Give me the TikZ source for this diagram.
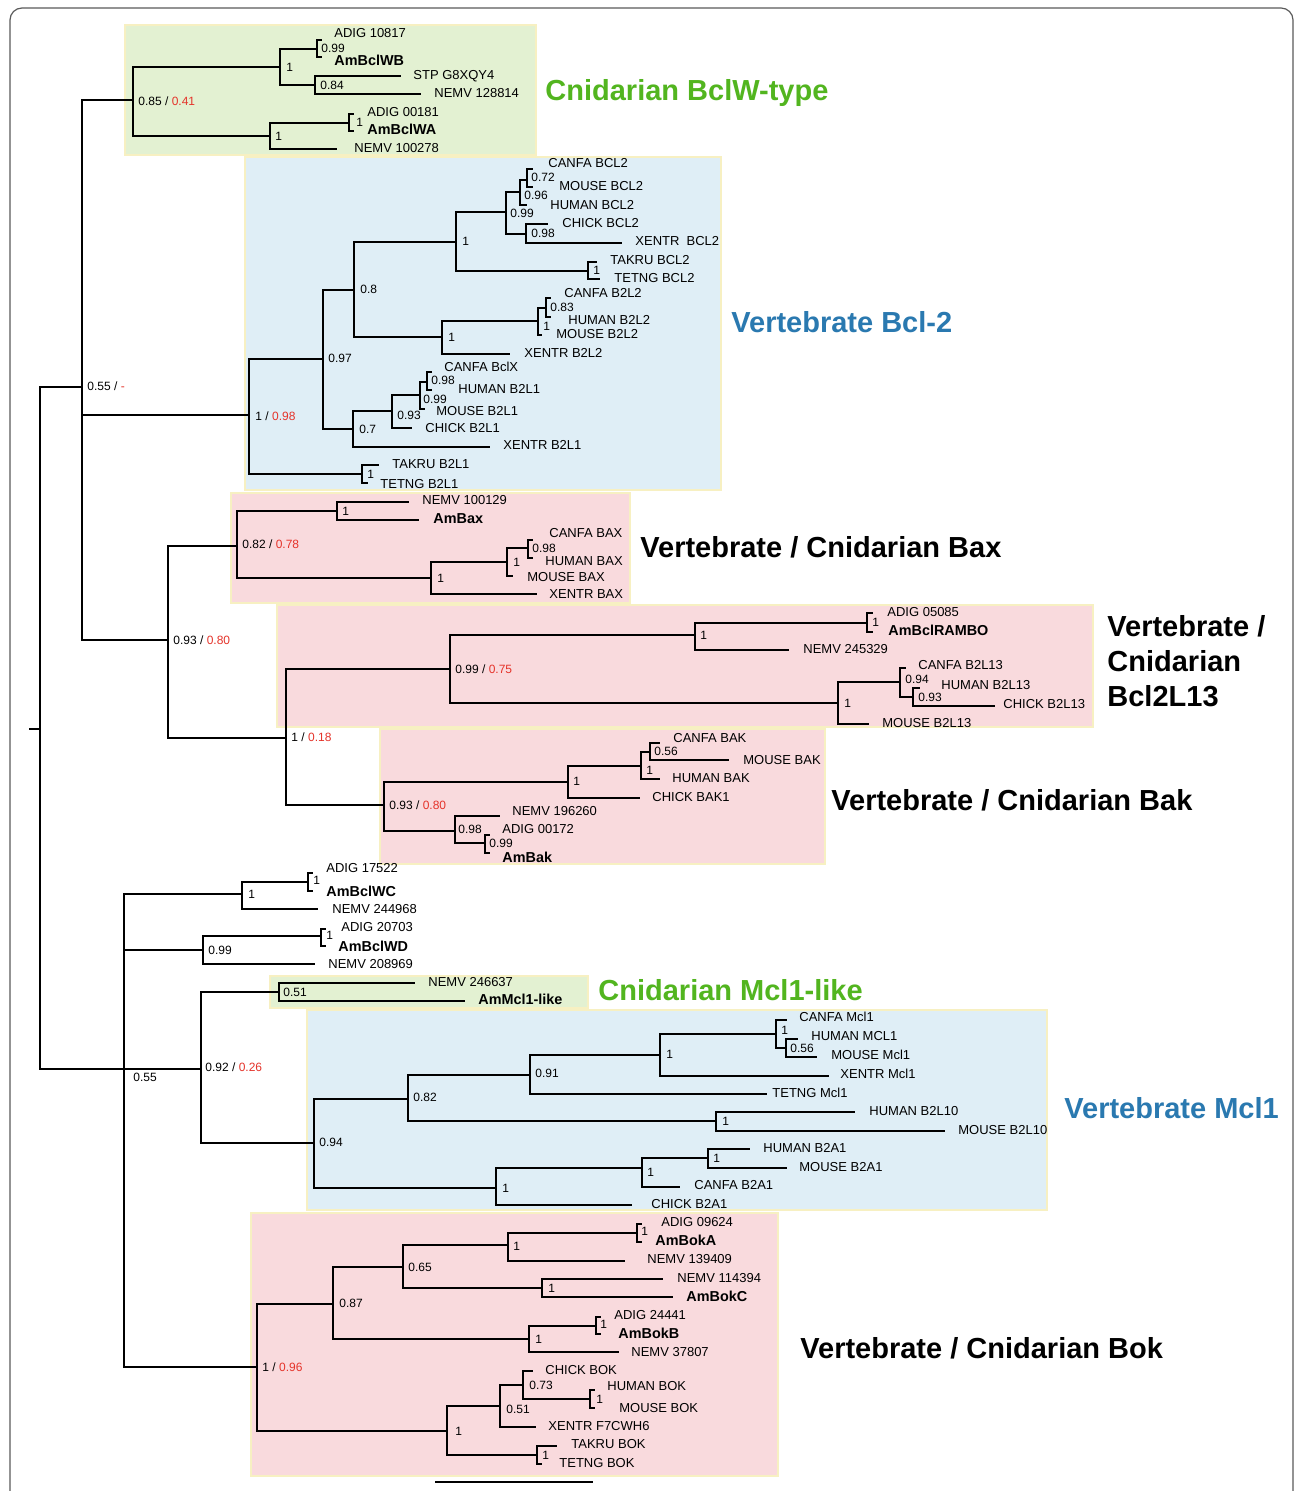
\documentclass[tikz,border=0pt]{standalone}
\usepackage{fontspec}
\setmainfont{Liberation Sans}
\definecolor{redv}{HTML}{E5332A}
\definecolor{gtitle}{HTML}{52B51F}
\definecolor{btitle}{HTML}{2A79B0}
\definecolor{gfill}{HTML}{E3F1D2}
\definecolor{bfill}{HTML}{DFEEF6}
\definecolor{pfill}{HTML}{F9DADD}
\definecolor{bedge}{HTML}{F7F0C2}
\definecolor{framec}{HTML}{5A5A5A}
\begin{document}
\begin{tikzpicture}[x=0.5pt,y=-0.5pt,
  br/.style={line width=1.35pt, line join=miter},
  leaf/.style={anchor=base west, inner sep=0pt, font=\fontsize{6.5}{7}\selectfont, yshift=-2.3pt},
  bleaf/.style={anchor=base west, inner sep=0pt, font=\fontsize{7.2}{8}\selectfont\bfseries, yshift=-2.6pt},
  sup/.style={anchor=base west, inner sep=0pt, font=\fontsize{6}{7}\selectfont, yshift=-2.2pt},
  ttl/.style={anchor=base west, inner sep=0pt, font=\fontsize{14.5}{16}\selectfont\bfseries, yshift=-5.2pt},
  cbox/.style={draw=bedge, line width=0.8pt}]
\useasboundingbox (0,0) rectangle (1295,1491);
\clip (0,0) rectangle (1295,1491);
\fill[white] (0,0) rectangle (1295,1491);
\draw[framec, line width=0.6pt, rounded corners=6pt] (10,8) rectangle (1293,1560);

% clade boxes
\filldraw[cbox, fill=gfill] (125,25) rectangle (536,155);
\filldraw[cbox, fill=bfill] (245,157) rectangle (721,490);
\filldraw[cbox, fill=pfill] (231,493) rectangle (630,603);
\filldraw[cbox, fill=pfill] (277,605) rectangle (1093,727);
\filldraw[cbox, fill=pfill] (380,729) rectangle (825,864);
\filldraw[cbox, fill=gfill] (270,976) rectangle (588,1008);
\filldraw[cbox, fill=bfill] (307,1010) rectangle (1047,1210);
\filldraw[cbox, fill=pfill] (251,1213) rectangle (778,1476);

% ---------- coordinates: backbone
\coordinate (rs) at (29,729);
\coordinate (r) at (40,729);
\coordinate (U) at (82,387);
\coordinate (L) at (124,1069);
% BclW
\coordinate (W) at (133,100);
\coordinate (W1) at (280,67);
\coordinate (W2) at (270,136);
\coordinate (W1a) at (317,49);
\coordinate (W1b) at (315,85);
\coordinate (W2a) at (349,123);
\coordinate (tA10817) at (322,40);
\coordinate (tAmBclWB) at (322,57);
\coordinate (tSTP) at (401,76);
\coordinate (tN128814) at (421,94);
\coordinate (tN100278) at (337,149);
\coordinate (tA00181) at (354,114);
\coordinate (tAmBclWA) at (354,131);
% Bcl-2
\coordinate (B0) at (249,415);
\coordinate (B1) at (323,359);
\coordinate (B2) at (362,474);
\coordinate (B11) at (354,290);
\coordinate (B12) at (353,429);
\coordinate (B111) at (456,242);
\coordinate (B112) at (442,337);
\coordinate (B1111) at (506,212);
\coordinate (B1112) at (588,271);
\coordinate (Bc) at (520,192);
\coordinate (Bd) at (526,234);
\coordinate (Be) at (527,180);
\coordinate (tCanBcl2) at (533,169);
\coordinate (tMouBcl2) at (533,187);
\coordinate (tHumBcl2) at (527,205);
\coordinate (tChiBcl2) at (548,224);
\coordinate (tXenBcl2) at (622,243);
\coordinate (tTakBcl2) at (597,262);
\coordinate (tTetBcl2) at (600,279);
\coordinate (Bf) at (538,321);
\coordinate (Bg) at (546,308);
\coordinate (tCanB2L2) at (551,298);
\coordinate (tHumB2L2) at (551,317);
\coordinate (tMouB2L2) at (542,335);
\coordinate (tXenB2L2) at (510,354);
\coordinate (Bh) at (392,411);
\coordinate (Bi) at (420,395);
\coordinate (Bj) at (427,382);
\coordinate (tCanBclX) at (432,372);
\coordinate (tHumB2L1) at (432,390);
\coordinate (tMouB2L1) at (425,409);
\coordinate (tChiB2L1) at (412,428);
\coordinate (tXenB2L1) at (490,447);
\coordinate (tTakB2L1) at (379,465);
\coordinate (tTetB2L1) at (368,483);
% Bax / Bcl2L13 / Bak
\coordinate (X) at (168,640);
\coordinate (X1) at (237,546);
\coordinate (X2) at (286,738);
\coordinate (X11) at (337,511);
\coordinate (X12) at (431,578);
\coordinate (Xk) at (507,562);
\coordinate (Xm) at (528,548);
\coordinate (tN100129) at (409,502);
\coordinate (tAmBax) at (419,520);
\coordinate (tCanBax) at (533,540);
\coordinate (tHumBax) at (533,558);
\coordinate (tMouBax) at (513,576);
\coordinate (tXenBax) at (537,594);
\coordinate (R) at (450,669);
\coordinate (R1) at (695,635);
\coordinate (R2) at (838,703);
\coordinate (Rn) at (867,623);
\coordinate (Ro) at (900,682);
\coordinate (Rp) at (913,697);
\coordinate (tA05085) at (873,613);
\coordinate (tAmRambo) at (873,632);
\coordinate (tN245329) at (789,650);
\coordinate (tCanL13) at (906,668);
\coordinate (tHumL13) at (920,688);
\coordinate (tChiL13) at (995,706);
\coordinate (tMouL13) at (869,724);
\coordinate (K) at (384,805);
\coordinate (K1) at (568,782);
\coordinate (K2) at (455,831);
\coordinate (Kq) at (641,766);
\coordinate (Ks) at (650,752);
\coordinate (Ku) at (485,843);
\coordinate (tCanBak) at (660,743);
\coordinate (tMouBak) at (729,760);
\coordinate (tHumBak) at (660,779);
\coordinate (tChiBak) at (640,798);
\coordinate (tN196260) at (500,816);
\coordinate (tA00172) at (490,835);
\coordinate (tAmBak) at (490,853);
% lower half
\coordinate (C) at (242,894);
\coordinate (C1) at (308,882);
\coordinate (tA17522) at (313,873);
\coordinate (tAmBclWC) at (313,891);
\coordinate (tN244968) at (318,909);
\coordinate (D) at (203,950);
\coordinate (D1) at (321,936);
\coordinate (tA20703) at (326,929);
\coordinate (tAmBclWD) at (326,946);
\coordinate (tN208969) at (315,964);
\coordinate (M) at (201,1069);
\coordinate (ML) at (279,992);
\coordinate (tN246637) at (415,983);
\coordinate (tAmMcl) at (465,1001);
\coordinate (V) at (314,1143);
\coordinate (V1) at (408,1099);
\coordinate (V2) at (496,1188);
\coordinate (V11) at (530,1075);
\coordinate (V12) at (716,1121);
\coordinate (V111) at (660,1055);
\coordinate (Vw) at (776,1034);
\coordinate (Vy) at (786,1048);
\coordinate (tCanMcl) at (787,1020);
\coordinate (tHumMcl) at (798,1039);
\coordinate (tMouMcl) at (817,1057);
\coordinate (tXenMcl) at (829,1076);
\coordinate (tTetMcl) at (767,1094);
\coordinate (tHumL10) at (855,1112);
\coordinate (tMouL10) at (945,1131);
\coordinate (V21) at (642,1168);
\coordinate (Vz) at (708,1158);
\coordinate (tHumA1) at (750,1149);
\coordinate (tMouA1) at (787,1168);
\coordinate (tCanA1) at (680,1187);
\coordinate (tChiA1) at (632,1205);
% Bok
\coordinate (O) at (257,1367);
\coordinate (O1) at (333,1304);
\coordinate (O2) at (447,1431);
\coordinate (O11) at (403,1267);
\coordinate (O12) at (529,1339);
\coordinate (O111) at (508,1245);
\coordinate (O112) at (542,1288);
\coordinate (Oa) at (637,1233);
\coordinate (tA09624) at (642,1224);
\coordinate (tAmBokA) at (642,1242);
\coordinate (tN139409) at (625,1261);
\coordinate (tN114394) at (663,1279);
\coordinate (tAmBokC) at (673,1297);
\coordinate (Ob) at (596,1326);
\coordinate (tA24441) at (601,1317);
\coordinate (tAmBokB) at (601,1334);
\coordinate (tN37807) at (619,1352);
\coordinate (O21) at (500,1406);
\coordinate (Od) at (523,1385);
\coordinate (Oe) at (590,1399);
\coordinate (Oc) at (537,1455);
\coordinate (tChiBok) at (533,1371);
\coordinate (tHumBok) at (595,1390);
\coordinate (tMouBok) at (595,1408);
\coordinate (tXenBok) at (536,1427);
\coordinate (tTakBok) at (557,1446);
\coordinate (tTetBok) at (542,1464);
\coordinate (sb1) at (435,1482);
\coordinate (sb2) at (593,1482);

% ---------- branches
\draw[line width=0.6pt] (rs) -- (r);
\draw[br] (r) |- (U) (r) |- (L);
\draw[br] (U) |- (W) (U) |- (B0) (U) |- (X);
\draw[br] (W) |- (W1) (W) |- (W2);
\draw[br] (W1) |- (W1a) (W1) |- (W1b);
\draw[br] (W1a) |- (tA10817) (W1a) |- (tAmBclWB);
\draw[br] (W1b) |- (tSTP) (W1b) |- (tN128814);
\draw[br] (W2) |- (W2a) (W2) |- (tN100278);
\draw[br] (W2a) |- (tA00181) (W2a) |- (tAmBclWA);
\draw[br] (B0) |- (B1) (B0) |- (B2);
\draw[br] (B1) |- (B11) (B1) |- (B12);
\draw[br] (B11) |- (B111) (B11) |- (B112);
\draw[br] (B111) |- (B1111) (B111) |- (B1112);
\draw[br] (B1111) |- (Bc) (B1111) |- (Bd);
\draw[br] (Bc) |- (Be) (Bc) |- (tHumBcl2);
\draw[br] (Be) |- (tCanBcl2) (Be) |- (tMouBcl2);
\draw[br] (Bd) |- (tChiBcl2) (Bd) |- (tXenBcl2);
\draw[br] (B1112) |- (tTakBcl2) (B1112) |- (tTetBcl2);
\draw[br] (B112) |- (Bf) (B112) |- (tXenB2L2);
\draw[br] (Bf) |- (Bg) (Bf) |- (tMouB2L2);
\draw[br] (Bg) |- (tCanB2L2) (Bg) |- (tHumB2L2);
\draw[br] (B12) |- (Bh) (B12) |- (tXenB2L1);
\draw[br] (Bh) |- (Bi) (Bh) |- (tChiB2L1);
\draw[br] (Bi) |- (Bj) (Bi) |- (tMouB2L1);
\draw[br] (Bj) |- (tCanBclX) (Bj) |- (tHumB2L1);
\draw[br] (B2) |- (tTakB2L1) (B2) |- (tTetB2L1);
\draw[br] (X) |- (X1) (X) |- (X2);
\draw[br] (X1) |- (X11) (X1) |- (X12);
\draw[br] (X11) |- (tN100129) (X11) |- (tAmBax);
\draw[br] (X12) |- (Xk) (X12) |- (tXenBax);
\draw[br] (Xk) |- (Xm) (Xk) |- (tMouBax);
\draw[br] (Xm) |- (tCanBax) (Xm) |- (tHumBax);
\draw[br] (X2) |- (R) (X2) |- (K);
\draw[br] (R) |- (R1) (R) |- (R2);
\draw[br] (R1) |- (Rn) (R1) |- (tN245329);
\draw[br] (Rn) |- (tA05085) (Rn) |- (tAmRambo);
\draw[br] (R2) |- (Ro) (R2) |- (tMouL13);
\draw[br] (Ro) |- (tCanL13) (Ro) |- (Rp);
\draw[br] (Rp) |- (tHumL13) (Rp) |- (tChiL13);
\draw[br] (K) |- (K1) (K) |- (K2);
\draw[br] (K1) |- (Kq) (K1) |- (tChiBak);
\draw[br] (Kq) |- (Ks) (Kq) |- (tHumBak);
\draw[br] (Ks) |- (tCanBak) (Ks) |- (tMouBak);
\draw[br] (K2) |- (tN196260) (K2) |- (Ku);
\draw[br] (Ku) |- (tA00172) (Ku) |- (tAmBak);
\draw[br] (L) |- (C) (L) |- (D) (L) |- (M) (L) |- (O);
\draw[br] (C) |- (C1) (C) |- (tN244968);
\draw[br] (C1) |- (tA17522) (C1) |- (tAmBclWC);
\draw[br] (D) |- (D1) (D) |- (tN208969);
\draw[br] (D1) |- (tA20703) (D1) |- (tAmBclWD);
\draw[br] (M) |- (ML) (M) |- (V);
\draw[br] (ML) |- (tN246637) (ML) |- (tAmMcl);
\draw[br] (V) |- (V1) (V) |- (V2);
\draw[br] (V1) |- (V11) (V1) |- (V12);
\draw[br] (V11) |- (V111) (V11) |- (tTetMcl);
\draw[br] (V111) |- (Vw) (V111) |- (tXenMcl);
\draw[br] (Vw) |- (tCanMcl) (Vw) |- (Vy);
\draw[br] (Vy) |- (tHumMcl) (Vy) |- (tMouMcl);
\draw[br] (V12) |- (tHumL10) (V12) |- (tMouL10);
\draw[br] (V2) |- (V21) (V2) |- (tChiA1);
\draw[br] (V21) |- (Vz) (V21) |- (tCanA1);
\draw[br] (Vz) |- (tHumA1) (Vz) |- (tMouA1);
\draw[br] (O) |- (O1) (O) |- (O2);
\draw[br] (O1) |- (O11) (O1) |- (O12);
\draw[br] (O11) |- (O111) (O11) |- (O112);
\draw[br] (O111) |- (Oa) (O111) |- (tN139409);
\draw[br] (Oa) |- (tA09624) (Oa) |- (tAmBokA);
\draw[br] (O112) |- (tN114394) (O112) |- (tAmBokC);
\draw[br] (O12) |- (Ob) (O12) |- (tN37807);
\draw[br] (Ob) |- (tA24441) (Ob) |- (tAmBokB);
\draw[br] (O2) |- (O21) (O2) |- (Oc);
\draw[br] (O21) |- (Od) (O21) |- (tXenBok);
\draw[br] (Od) |- (tChiBok) (Od) |- (Oe);
\draw[br] (Oe) |- (tHumBok) (Oe) |- (tMouBok);
\draw[br] (Oc) |- (tTakBok) (Oc) |- (tTetBok);
\draw[br] (sb1) -- (sb2);

% ---------- leaf labels
\node[leaf] (lA10817) at (334,33) {ADIG 10817};
\node[bleaf] (lAmBclWB) at (334,60) {AmBclWB};
\node[leaf] (lSTP) at (413,75) {STP G8XQY4};
\node[leaf] (lN128814) at (434,93) {NEMV 128814};
\node[leaf] (lA00181) at (367,112) {ADIG 00181};
\node[bleaf] (lAmBclWA) at (367,129) {AmBclWA};
\node[leaf] (lN100278) at (354,148) {NEMV 100278};
\node[leaf] (lCanBcl2) at (548,163) {CANFA BCL2};
\node[leaf] (lMouBcl2) at (559,186) {MOUSE BCL2};
\node[leaf] (lHumBcl2) at (550,205) {HUMAN BCL2};
\node[leaf] (lChiBcl2) at (562,223) {CHICK BCL2};
\node[leaf] (lXenBcl2) at (635,241) {XENTR\ \ BCL2};
\node[leaf] (lTakBcl2) at (610,260) {TAKRU BCL2};
\node[leaf] (lTetBcl2) at (614,278) {TETNG BCL2};
\node[leaf] (lCanB2L2) at (564,293) {CANFA B2L2};
\node[leaf] (lHumB2L2) at (568,320) {HUMAN B2L2};
\node[leaf] (lMouB2L2) at (556,334) {MOUSE B2L2};
\node[leaf] (lXenB2L2) at (524,353) {XENTR B2L2};
\node[leaf] (lCanBclX) at (444,367) {CANFA BclX};
\node[leaf] (lHumB2L1) at (458,389) {HUMAN B2L1};
\node[leaf] (lMouB2L1) at (436,411) {MOUSE B2L1};
\node[leaf] (lChiB2L1) at (425,428) {CHICK B2L1};
\node[leaf] (lXenB2L1) at (503,445) {XENTR B2L1};
\node[leaf] (lTakB2L1) at (392,464) {TAKRU B2L1};
\node[leaf] (lTetB2L1) at (380,484) {TETNG B2L1};
\node[leaf] (lN100129) at (422,500) {NEMV 100129};
\node[bleaf] (lAmBax) at (433,518) {AmBax};
\node[leaf] (lCanBax) at (549,533) {CANFA BAX};
\node[leaf] (lHumBax) at (545,561) {HUMAN BAX};
\node[leaf] (lMouBax) at (527,577) {MOUSE BAX};
\node[leaf] (lXenBax) at (549,594) {XENTR BAX};
\node[leaf] (lA05085) at (887,612) {ADIG 05085};
\node[bleaf] (lAmRambo) at (888,630) {AmBclRAMBO};
\node[leaf] (lN245329) at (803,649) {NEMV 245329};
\node[leaf] (lCanL13) at (918,665) {CANFA B2L13};
\node[leaf] (lHumL13) at (941,685) {HUMAN B2L13};
\node[leaf] (lChiL13) at (1003,704) {CHICK B2L13};
\node[leaf] (lMouL13) at (882,723) {MOUSE B2L13};
\node[leaf] (lCanBak) at (673,738) {CANFA BAK};
\node[leaf] (lMouBak) at (743,760) {MOUSE BAK};
\node[leaf] (lHumBak) at (672,778) {HUMAN BAK};
\node[leaf] (lChiBak) at (652,797) {CHICK BAK1};
\node[leaf] (lN196260) at (512,811) {NEMV 196260};
\node[leaf] (lA00172) at (502,829) {ADIG 00172};
\node[bleaf] (lAmBak) at (502,857) {AmBak};
\node[leaf] (lA17522) at (326,868) {ADIG 17522};
\node[bleaf] (lAmBclWC) at (326,891) {AmBclWC};
\node[leaf] (lN244968) at (332,909) {NEMV 244968};
\node[leaf] (lA20703) at (341,927) {ADIG 20703};
\node[bleaf] (lAmBclWD) at (338,946) {AmBclWD};
\node[leaf] (lN208969) at (328,964) {NEMV 208969};
\node[leaf] (lN246637) at (428,982) {NEMV 246637};
\node[bleaf] (lAmMcl) at (478,999) {AmMcl1-like};
\node[leaf] (lCanMcl) at (799,1017) {CANFA Mcl1};
\node[leaf] (lHumMcl) at (811,1036) {HUMAN MCL1};
\node[leaf] (lMouMcl) at (831,1055) {MOUSE Mcl1};
\node[leaf] (lXenMcl) at (840,1074) {XENTR Mcl1};
\node[leaf] (lTetMcl) at (772,1093) {TETNG Mcl1};
\node[leaf] (lHumL10) at (869,1111) {HUMAN B2L10};
\node[leaf] (lMouL10) at (958,1130) {MOUSE B2L10};
\node[leaf] (lHumA1) at (763,1148) {HUMAN B2A1};
\node[leaf] (lMouA1) at (799,1167) {MOUSE B2A1};
\node[leaf] (lCanA1) at (694,1185) {CANFA B2A1};
\node[leaf] (lChiA1) at (651,1204) {CHICK B2A1};
\node[leaf] (lA09624) at (661,1222) {ADIG 09624};
\node[bleaf] (lAmBokA) at (655,1240) {AmBokA};
\node[leaf] (lN139409) at (647,1259) {NEMV 139409};
\node[leaf] (lN114394) at (677,1278) {NEMV 114394};
\node[bleaf] (lAmBokC) at (686,1296) {AmBokC};
\node[leaf] (lA24441) at (614,1315) {ADIG 24441};
\node[bleaf] (lAmBokB) at (618,1333) {AmBokB};
\node[leaf] (lN37807) at (631,1352) {NEMV 37807};
\node[leaf] (lChiBok) at (545,1370) {CHICK BOK};
\node[leaf] (lHumBok) at (607,1386) {HUMAN BOK};
\node[leaf] (lMouBok) at (619,1408) {MOUSE BOK};
\node[leaf] (lXenBok) at (548,1426) {XENTR F7CWH6};
\node[leaf] (lTakBok) at (571,1444) {TAKRU BOK};
\node[leaf] (lTetBok) at (559,1463) {TETNG BOK};

% ---------- support values
\node[sup] (sU) at (87,386) {0.55 / \textcolor{redv}{-}};
\node[sup] (sW) at (138,101) {0.85 / \textcolor{redv}{0.41}};
\node[sup] (sW1) at (286,67) {1};
\node[sup] (sW1a) at (321,48) {0.99};
\node[sup] (sW1b) at (320,85) {0.84};
\node[sup] (sW2) at (275,136) {1};
\node[sup] (sW2a) at (356,122) {1};
\node[sup] (sBe) at (531,177) {0.72};
\node[sup] (sBc) at (524,195) {0.96};
\node[sup] (sB1111) at (510,213) {0.99};
\node[sup] (sBd) at (531,233) {0.98};
\node[sup] (sB111) at (462,241) {1};
\node[sup] (sB1112) at (593,270) {1};
\node[sup] (sB11) at (360,289) {0.8};
\node[sup] (sBg) at (550,307) {0.83};
\node[sup] (sBf) at (543,326) {1};
\node[sup] (sB112) at (448,337) {1};
\node[sup] (sB1) at (328,358) {0.97};
\node[sup] (sBj) at (431,380) {0.98};
\node[sup] (sBi) at (423,399) {0.99};
\node[sup] (sBh) at (397,415) {0.93};
\node[sup] (sB0) at (255,416) {1 / \textcolor{redv}{0.98}};
\node[sup] (sB12) at (359,429) {0.7};
\node[sup] (sB2) at (367,474) {1};
\node[sup] (sX11) at (342,511) {1};
\node[sup] (sXm) at (532,548) {0.98};
\node[sup] (sX1) at (242,544) {0.82 / \textcolor{redv}{0.78}};
\node[sup] (sXk) at (513,562) {1};
\node[sup] (sX12) at (437,578) {1};
\node[sup] (sX) at (173,640) {0.93 / \textcolor{redv}{0.80}};
\node[sup] (sRn) at (872,622) {1};
\node[sup] (sR1) at (700,635) {1};
\node[sup] (sR) at (455,669) {0.99 / \textcolor{redv}{0.75}};
\node[sup] (sRo) at (905,679) {0.94};
\node[sup] (sRp) at (918,697) {0.93};
\node[sup] (sR2) at (844,703) {1};
\node[sup] (sX2) at (291,737) {1 / \textcolor{redv}{0.18}};
\node[sup] (sKs) at (654,751) {0.56};
\node[sup] (sKq) at (646,770) {1};
\node[sup] (sK1) at (573,781) {1};
\node[sup] (sK) at (389,805) {0.93 / \textcolor{redv}{0.80}};
\node[sup] (sK2) at (458,829) {0.98};
\node[sup] (sKu) at (489,843) {0.99};
\node[sup] (sC1) at (313,880) {1};
\node[sup] (sC) at (248,894) {1};
\node[sup] (sD1) at (326,935) {1};
\node[sup] (sD) at (208,950) {0.99};
\node[sup] (sML) at (283,992) {0.51};
\node[sup] (sVw) at (781,1030) {1};
\node[sup] (sVy) at (790,1048) {0.56};
\node[sup] (sV111) at (666,1054) {1};
\node[sup] (sM) at (205,1067) {0.92 / \textcolor{redv}{0.26}};
\node[sup] (sV11) at (535,1073) {0.91};
\node[sup] (sL) at (133,1077) {0.55};
\node[sup] (sV1) at (413,1097) {0.82};
\node[sup] (sV12) at (722,1121) {1};
\node[sup] (sV) at (319,1142) {0.94};
\node[sup] (sVz) at (713,1158) {1};
\node[sup] (sV21) at (647,1172) {1};
\node[sup] (sV2) at (502,1188) {1};
\node[sup] (sOa) at (641,1231) {1};
\node[sup] (sO111) at (513,1246) {1};
\node[sup] (sO11) at (408,1267) {0.65};
\node[sup] (sO112) at (548,1288) {1};
\node[sup] (sO1) at (339,1303) {0.87};
\node[sup] (sOb) at (600,1324) {1};
\node[sup] (sO12) at (535,1339) {1};
\node[sup] (sO) at (262,1367) {1 / \textcolor{redv}{0.96}};
\node[sup] (sOd) at (529,1385) {0.73};
\node[sup] (sOe) at (596,1399) {1};
\node[sup] (sO21) at (506,1409) {0.51};
\node[sup] (sO2) at (455,1431) {1};
\node[sup] (sOc) at (542,1455) {1};

% ---------- clade titles
\node[ttl, text=gtitle] (tBclW) at (545,90) {Cnidarian BclW-type};
\node[ttl, text=btitle] (tBcl2) at (731,322) {Vertebrate Bcl-2};
\node[ttl] (tBax) at (640,547) {Vertebrate / Cnidarian Bax};
\node[ttl] (tL13a) at (1107,626) {Vertebrate /};
\node[ttl] (tL13b) at (1107,661) {Cnidarian};
\node[ttl] (tL13c) at (1107,696) {Bcl2L13};
\node[ttl] (tBak) at (831,800) {Vertebrate / Cnidarian Bak};
\node[ttl, text=gtitle] (tMclL) at (598,990) {Cnidarian Mcl1-like};
\node[ttl, text=btitle] (tMcl1) at (1064,1108) {Vertebrate Mcl1};
\node[ttl] (tBok) at (800,1348) {Vertebrate / Cnidarian Bok};
\end{tikzpicture}
\end{document}
